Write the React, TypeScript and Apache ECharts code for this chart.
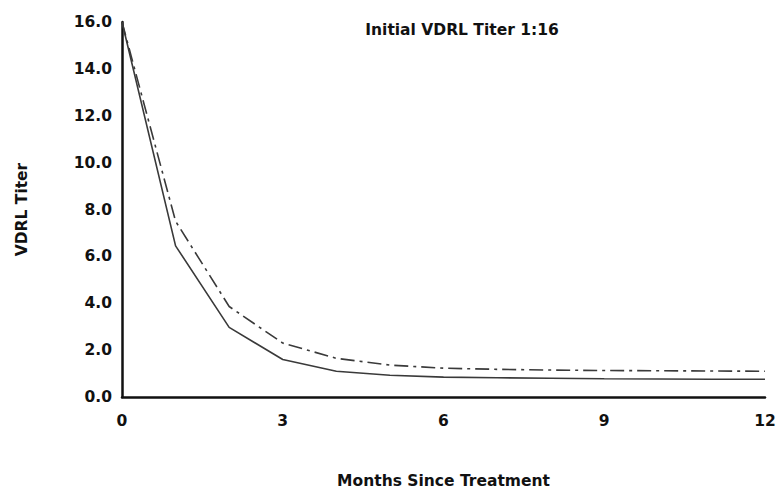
import React, { useEffect, useRef } from "react";
import * as echarts from "echarts";

const months = [0, 1, 2, 3, 4, 5, 6, 7, 8, 9, 10, 11, 12];
const solidSeries = [16, 6.45, 2.97, 1.6, 1.1, 0.93, 0.85, 0.82, 0.8, 0.78, 0.77, 0.76, 0.76];
const dashDotSeries = [16, 7.5, 3.86, 2.3, 1.65, 1.36, 1.23, 1.18, 1.15, 1.13, 1.12, 1.11, 1.1];
const xTicks = [0, 3, 6, 9, 12];

const FONT = "'DejaVu Sans', 'Liberation Sans', sans-serif";

export default function App() {
  const ref = useRef<HTMLDivElement>(null);
  useEffect(() => {
    if (!ref.current) return;
    const chart = echarts.init(ref.current, undefined, { renderer: "svg" });
    chart.setOption({
      animation: false,
      backgroundColor: "#ffffff",
      title: {
        text: "Initial VDRL Titer 1:16",
        left: 457,
        top: 17,
        textAlign: "center",
        textStyle: { fontFamily: FONT, fontSize: 15.5, fontWeight: "bold", color: "#111" },
      },
      grid: { left: 122, right: 18, top: 22, bottom: 95, containLabel: false },
      xAxis: {
        type: "value",
        min: 0,
        max: 12,
        interval: 3,
        name: "Months Since Treatment",
        nameLocation: "middle",
        nameGap: 76,
        nameTextStyle: { fontFamily: FONT, fontSize: 15.5, fontWeight: "bold", color: "#111" },
        axisLine: { show: true, lineStyle: { color: "#111", width: 2.5 } },
        axisTick: { show: false },
        splitLine: { show: false },
        axisLabel: {
          margin: 16,
          fontFamily: FONT,
          fontSize: 15.5,
          fontWeight: "bold",
          color: "#111",
          customValues: xTicks,
          formatter: (v: number) => String(v),
        },
      },
      yAxis: {
        type: "value",
        min: 0,
        max: 16,
        interval: 2,
        name: "VDRL Titer",
        nameLocation: "middle",
        nameGap: 92,
        nameRotate: 90,
        nameTextStyle: { fontFamily: FONT, fontSize: 15.5, fontWeight: "bold", color: "#111" },
        axisLine: { show: true, lineStyle: { color: "#111", width: 2.5 } },
        axisTick: { show: false },
        splitLine: { show: false },
        axisLabel: {
          margin: 10,
          fontFamily: FONT,
          fontSize: 15.5,
          fontWeight: "bold",
          color: "#111",
          formatter: (v: number) => v.toFixed(1),
        },
      },
      series: [
        {
          type: "line",
          data: months.map((m, i) => [m, solidSeries[i]]),
          showSymbol: false,
          symbol: "none",
          lineStyle: { color: "#3a3a3a", width: 1.6, type: "solid" },
        },
        {
          type: "line",
          data: months.map((m, i) => [m, dashDotSeries[i]]),
          showSymbol: false,
          symbol: "none",
          lineStyle: { color: "#3a3a3a", width: 1.6, type: [14, 5, 3, 5] },
        },
      ],
    });
    return () => chart.dispose();
  }, []);
  return (
    <div
      ref={ref}
      style={{ position: "absolute", left: 0, top: 0, width: 783, height: 494 }}
    />
  );
}
